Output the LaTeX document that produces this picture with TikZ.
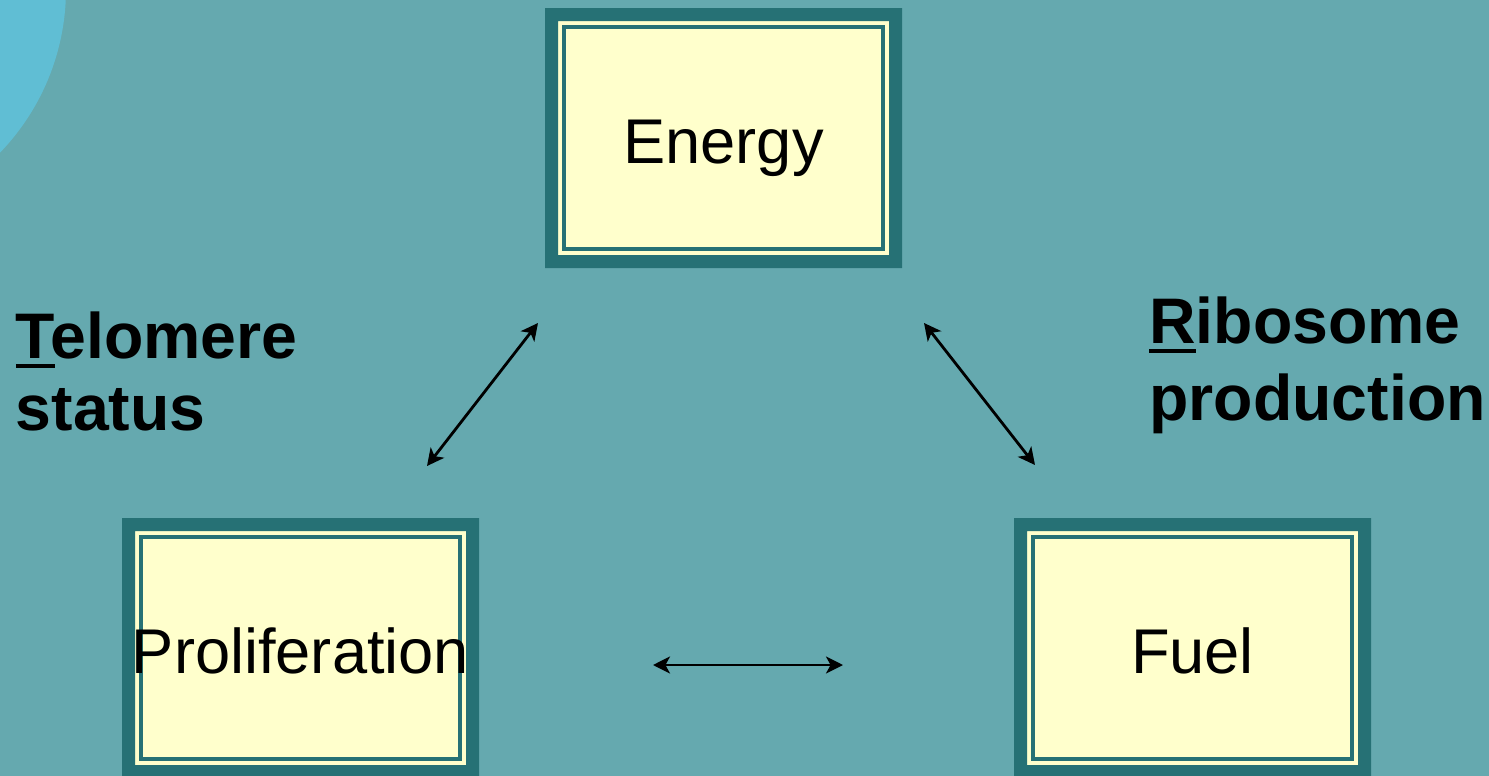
\documentclass[tikz,border=0pt]{standalone}
\usepackage{fontspec}
\setmainfont{Liberation Sans}
\usetikzlibrary{arrows.meta}

\definecolor{slide}{RGB}{101,169,175}
\definecolor{halo}{RGB}{96,190,212}
\definecolor{frame}{RGB}{38,113,117}
\definecolor{paper}{RGB}{255,255,204}

% underline one leading letter with a heavy rule
\newcommand\leadul[1]{\setbox0\hbox{#1}\rlap{\rule[-4.75pt]{\wd0}{1.75pt}}#1}

\tikzset{
  cell/.style={rectangle, inner sep=0pt, minimum width=178.5pt, minimum height=130pt,
    fill=paper, text height=25pt, text depth=0pt,
    font=\fontsize{31.6}{38}\selectfont,
    path picture={
      \fill[frame, even odd rule]
        (path picture bounding box.south west) rectangle (path picture bounding box.north east)
        ([shift={(6.5pt,6.5pt)}]path picture bounding box.south west) rectangle
        ([shift={(-6.5pt,-6.5pt)}]path picture bounding box.north east);
      \draw[frame, line width=2.25pt]
        ([shift={(9.6pt,9.6pt)}]path picture bounding box.south west) rectangle
        ([shift={(-9.6pt,-9.6pt)}]path picture bounding box.north east);
    }},
  link/.style={{Stealth[length=8.5pt,width=8.5pt,inset=2.3pt]}-{Stealth[length=8.5pt,width=8.5pt,inset=2.3pt]},
    line width=1.4pt, black},
  lab/.style={inner sep=0pt, align=left, anchor=base west}
}

\begin{document}
\begin{tikzpicture}[x=0.5pt, y=-0.5pt]
  \useasboundingbox (0,0) rectangle (1489,776);
  \begin{scope}
    \clip (0,0) rectangle (1489,776);
    \fill[slide] (0,0) rectangle (1489,776);
    \fill[halo] (-170,-11) circle [radius=236];
  \end{scope}

  % the three boxes
  \node[cell] (energy) at (723.5,138) {Energy};
  \node[cell] (prolif) at (300.5,648) {Proliferation};
  \node[cell] (fuel)   at (1192.5,648) {Fuel};

  % arrow end points
  \coordinate (pe) at (427,466);
  \coordinate (ep) at (538,323);
  \coordinate (ef) at (924,323);
  \coordinate (fe) at (1035,465);
  \coordinate (pf) at (653,665);
  \coordinate (fp) at (843,665);

  \draw[link] (pe) -- (ep);
  \draw[link] (ef) -- (fe);
  \draw[link] (pf) -- (fp);

  % side labels (anchored on the baseline of the last line)
  \node[lab, font=\bfseries\fontsize{32.2}{36}\selectfont] (telo) at (15.5,430)
    {\leadul{T}elomere\\status};
  \node[lab, font=\bfseries\fontsize{32.2}{38.5}\selectfont] (ribo) at (1149,420)
    {\leadul{R}ibosome\\production};
\end{tikzpicture}
\end{document}
